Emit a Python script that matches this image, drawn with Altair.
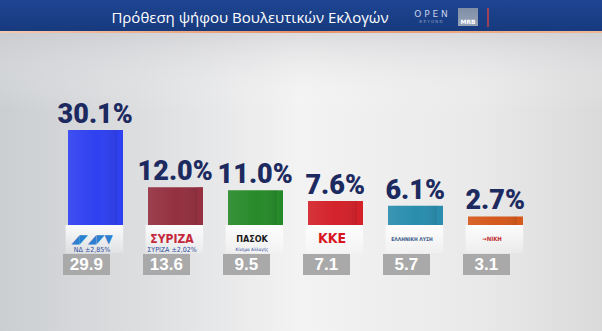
import altair as alt
import pandas as pd

# ---- data ----
parties = ["ΝΔ", "ΣΥΡΙΖΑ", "ΠΑΣΟΚ", "ΚΚΕ", "ΕΛΛΗΝΙΚΗ ΛΥΣΗ", "ΝΙΚΗ"]
values = [30.1, 12.0, 11.0, 7.6, 6.1, 2.7]
previous = [29.9, 13.6, 9.5, 7.1, 5.7, 3.1]
front_colors = ["#2f40f0", "#943040", "#278a2a", "#d3222a", "#2a8dad", "#d5581c"]
side_colors = ["#1a22a6", "#5e1822", "#145c16", "#7e1015", "#195f78", "#8a3210"]
logo_text = ["◢◤◢◤▼", "ΣΥΡΙΖΑ", "ΠΑΣΟΚ", "ΚΚΕ", "ΕΛΛΗΝΙΚΗ ΛΥΣΗ", "→ΝΙΚΗ"]
logo_colors = ["#2d7fd0", "#c4283a", "#1b1b1b", "#d8161e", "#3a5a8a", "#c03030"]
logo_sizes = [12, 12, 9, 14, 5, 6]
sub_text = ["ΝΔ ±2,85%", "ΣΥΡΙΖΑ ±2,02%", "Κίνημα Αλλαγής", "", "", ""]
sub_sizes = [7, 7, 4.5, 7, 7, 7]
title = "Πρόθεση ψήφου Βουλευτικών Εκλογών"

df = pd.DataFrame({
    "party": parties,
    "value": values,
    "label": [f"{v:.1f}%" for v in values],
    "prev": [f"{p:.1f}" for p in previous],
    "logo": logo_text,
    "logo_color": logo_colors,
    "logo_size": logo_sizes,
    "sub": sub_text,
    "sub_size": sub_sizes,
})

W, H = 602, 331
one = pd.DataFrame({"a": [0]})

xscale = alt.Scale(domain=parties, range=[52, 532], paddingInner=0, paddingOuter=0)

def xb(pos):
    return alt.X("party:N", sort=parties, axis=None, scale=xscale, bandPosition=pos)

def x2b(pos):
    return alt.X2("party:N", bandPosition=pos)

yscale = alt.Scale(domain=[0, 30.1], range=[225, 130], nice=False, zero=True)
yenc = alt.Y("value:Q", scale=yscale, axis=None)
y0 = alt.Y2(datum=0)

def grad_h(stops):
    return alt.Gradient(gradient="linear", x1=0, x2=1, y1=0, y2=0,
                        stops=[alt.GradientStop(color=c, offset=o) for o, c in stops])

def grad_v(stops):
    return alt.Gradient(gradient="linear", x1=0, x2=0, y1=0, y2=1,
                        stops=[alt.GradientStop(color=c, offset=o) for o, c in stops])

# background
bg = alt.Chart(one).mark_rect(
    color=grad_h([(0, "#cbced1"), (0.25, "#dedfe1"), (0.5, "#f3f3f3"), (0.8, "#e9e9ea"), (1, "#dadadb")])
).encode(x=alt.value(0), x2=alt.value(W), y=alt.value(0), y2=alt.value(H))

bg_top = alt.Chart(one).mark_rect(
    color=grad_v([(0, "rgba(200,200,205,0.55)"), (1, "rgba(255,255,255,0)")])
).encode(x=alt.value(0), x2=alt.value(W), y=alt.value(31), y2=alt.value(110))

# header
header = alt.Chart(one).mark_rect(
    color=grad_v([(0, "#1f4592"), (1, "#173a7e")])
).encode(x=alt.value(0), x2=alt.value(W), y=alt.value(0), y2=alt.value(31))
orange = alt.Chart(one).mark_rect(
    color=grad_h([(0, "#f3c9b0"), (0.5, "#e9946a"), (1, "#f0b898")])
).encode(x=alt.value(0), x2=alt.value(W), y=alt.value(31), y2=alt.value(33))
title_t = alt.Chart(one).mark_text(
    text=title, color="white", fontSize=15, font="Open Sans", baseline="middle", align="center"
).encode(x=alt.value(250), y=alt.value(18))
open_t = alt.Chart(one).mark_text(
    text="O P E N", color="#c9d2ea", fontSize=9, font="DejaVu Sans",
    baseline="middle", align="center"
).encode(x=alt.value(431), y=alt.value(14))
beyond_t = alt.Chart(one).mark_text(
    text="B E Y O N D", color="#8fa0c8", fontSize=4, font="DejaVu Sans",
    baseline="middle", align="center"
).encode(x=alt.value(431), y=alt.value(22))
mrb_box = alt.Chart(one).mark_rect(
    color=grad_v([(0, "#7f8ea6"), (1, "#97a4b8")])
).encode(x=alt.value(458), x2=alt.value(478), y=alt.value(8), y2=alt.value(26))
mrb_t = alt.Chart(one).mark_text(
    text="MRB", color="white", fontSize=6, fontWeight="bold", font="DejaVu Sans",
    baseline="middle", align="center"
).encode(x=alt.value(468), y=alt.value(22))
red_line = alt.Chart(one).mark_rule(color="#c8454a", strokeWidth=1.5).encode(
    x=alt.value(488), y=alt.value(8), y2=alt.value(27))

base = alt.Chart(df)

# white logo area under bars
refl = base.mark_rect(
    color=grad_v([(0, "rgba(255,255,255,0.9)"), (1, "rgba(255,255,255,0.2)")])
).encode(x=xb(0.17), x2=x2b(0.89), y=alt.value(225), y2=alt.value(253))

front = base.mark_bar().encode(
    x=xb(0.2), x2=x2b(0.8125), y=yenc, y2=y0,
    color=alt.Color("party:N", scale=alt.Scale(domain=parties, range=front_colors), legend=None))
side = base.mark_bar().encode(
    x=xb(0.8125), x2=x2b(0.8875), y=yenc, y2=y0,
    color=alt.Color("party:N", scale=alt.Scale(domain=parties, range=side_colors), legend=None))
shine = base.mark_bar(
    color=grad_h([(0, "rgba(255,255,255,0.08)"), (0.6, "rgba(255,255,255,0.0)"), (1, "rgba(0,0,0,0.08)")])
).encode(x=xb(0.2), x2=x2b(0.8125), y=yenc, y2=y0)

labels = base.mark_text(
    fontSize=27, fontWeight=900, font="Roboto, DejaVu Sans Condensed",
    color="#1c2a60", baseline="alphabetic", dy=-7
).encode(x=xb(0.54), y=yenc, text="label:N")

logos = base.mark_text(baseline="middle", fontWeight="bold", font="DejaVu Sans Condensed, DejaVu Sans").encode(
    x=xb(0.5), y=alt.value(239), text="logo:N",
    color=alt.Color("logo_color:N", scale=None),
    size=alt.Size("logo_size:Q", scale=None))
subs = base.mark_text(baseline="middle", color="#2d4a9a", font="DejaVu Sans Condensed, DejaVu Sans").encode(
    x=xb(0.5), y=alt.value(249.5), text="sub:N",
    size=alt.Size("sub_size:Q", scale=None))

boxes = base.mark_rect(color="#a9a9aa").encode(
    x=xb(0.1375), x2=x2b(0.725), y=alt.value(254), y2=alt.value(275))
box_text = base.mark_text(
    fontSize=17, fontWeight="bold", color="white", font="Liberation Sans, Roboto",
    baseline="middle"
).encode(x=xb(0.43), y=alt.value(265), text="prev:N")

chart = alt.layer(
    bg, bg_top, header, orange, title_t, open_t, beyond_t, mrb_box, mrb_t, red_line,
    refl, front, side, shine, labels, logos, subs, boxes, box_text
).properties(
    width=W, height=H, padding=0, autosize=alt.AutoSizeParams(type="none")
).configure_view(stroke=None)

chart.save("out.html", embed_options={"renderer": "svg", "actions": False})
